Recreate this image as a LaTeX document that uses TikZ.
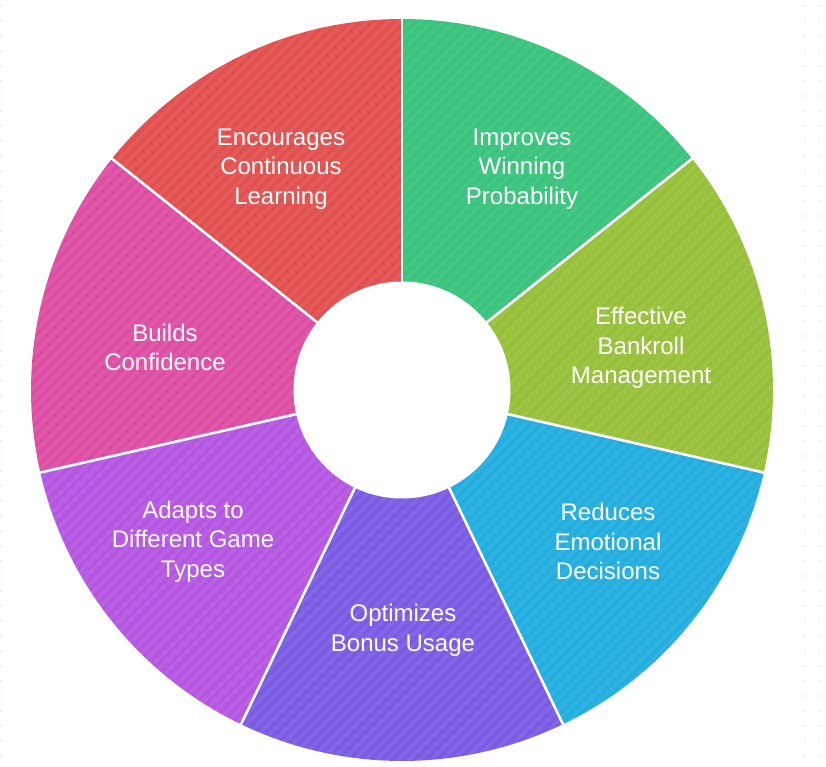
\documentclass[tikz,border=0pt]{standalone}
\usepackage{fontspec}
\setmainfont{Liberation Sans}
\begin{document}
\begin{tikzpicture}[x=1pt,y=1pt,
  lbl/.style={text=white, align=center, font=\fontsize{24}{29.5}\selectfont, inner sep=0pt},
  sep/.style={white, line width=2.6pt},
  dotc/.style={fill=black!12}]
\definecolor{cRed}{HTML}{E2514F}
\definecolor{cPink}{HTML}{DE4FA4}
\definecolor{cViolet}{HTML}{B557E2}
\definecolor{cPurple}{HTML}{7B5DE4}
\definecolor{cBlue}{HTML}{22AEDF}
\definecolor{cOlive}{HTML}{97C13A}
\definecolor{cGreen}{HTML}{3AC47D}
\useasboundingbox (0,0) rectangle (826,766);
\fill[white] (0,0) rectangle (826,766);
% faint dotted page edges
\foreach \yy in {6,21,...,766} {
  \fill[dotc] (1,766-\yy) circle (0.9);
  \fill[dotc] (805,766-\yy) circle (0.9);
  \fill[dotc] (819,766-\yy) circle (0.9);
}
\coordinate (c) at (402,376);
\def\Ro{371}
\def\Ri{108.5}
\begin{scope}[shift={(c)}]
  \foreach \i/\col in {0/cRed,1/cPink,2/cViolet,3/cPurple,4/cBlue,5/cOlive,6/cGreen} {
    \pgfmathsetmacro{\a}{90+\i*360/7}
    \pgfmathsetmacro{\b}{90+(\i+1)*360/7}
    \fill[\col] (0,0) -- (\a:\Ro) arc[start angle=\a, end angle=\b, radius=\Ro] -- cycle;
  }
  % subtle diagonal stripes
  \begin{scope}
    \clip (0,0) circle (\Ro);
    \foreach \k in {-1200,-1189,...,420} {
      \draw[white, opacity=0.06, line width=3.8pt] (\k,-400) -- ++(800,800);
    }
  \end{scope}
  % separators
  \foreach \i in {0,...,6} {
    \pgfmathsetmacro{\a}{90+\i*360/7}
    \draw[sep] (0,0) -- (\a:\Ro+1);
  }
  \fill[white] (0,0) circle (\Ri);
\end{scope}
% labels
\node[lbl] (l1) at (281,597) {Encourages\\Continuous\\Learning};
\node[lbl] (l2) at (522,597) {Improves\\Winning\\Probability};
\node[lbl] (l3) at (641,418) {Effective\\Bankroll\\Management};
\node[lbl] (l4) at (608,224.5) {Reduces\\Emotional\\Decisions};
\node[lbl] (l5) at (403,135.5) {Optimizes\\Bonus Usage};
\node[lbl] (l6) at (193,224.5) {Adapts to\\Different Game\\Types};
\node[lbl] (l7) at (165,418.5) {Builds\\Confidence};
\end{tikzpicture}
\end{document}
